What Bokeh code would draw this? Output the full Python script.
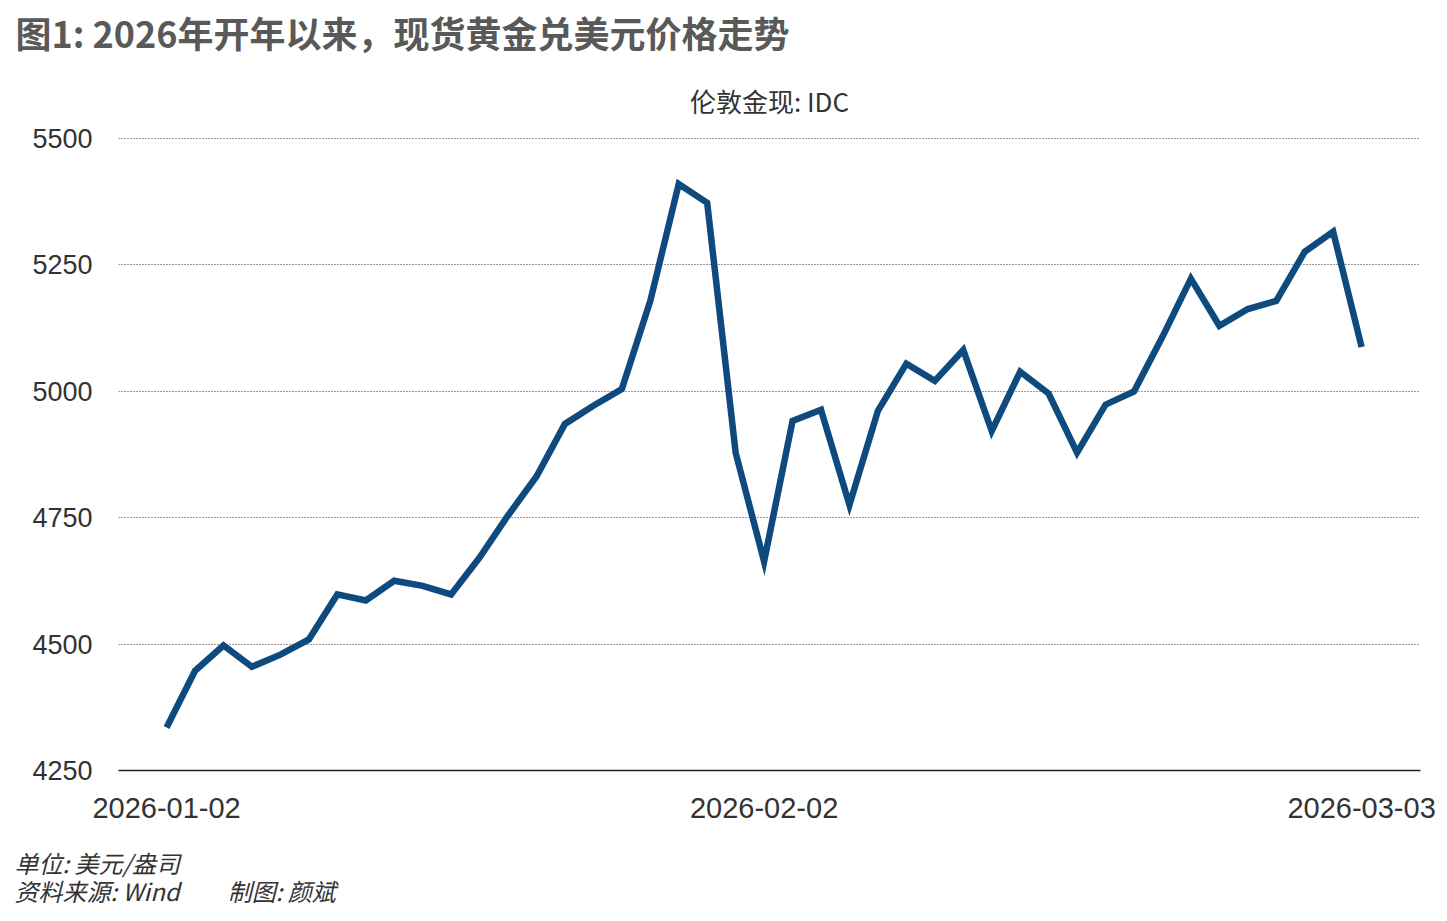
import pandas as pd
from bokeh.plotting import figure
from bokeh.models import FixedTicker, Range1d, Title
from bokeh.embed import file_html
from bokeh.resources import INLINE

# ---- data ----
dates = [d.strftime("%Y-%m-%d") for d in pd.bdate_range("2026-01-02", "2026-03-03")]
price = [4335, 4447, 4497, 4455, 4479, 4509, 4598, 4586, 4625, 4615,
         4598, 4671, 4754, 4831, 4935, 4971, 5004, 5178, 5409, 5372,
         4878, 4663, 4941, 4963, 4775, 4961, 5054, 5020, 5081, 4921,
         5038, 4995, 4878, 4973, 4999, 5107, 5222, 5129, 5162, 5178,
         5275, 5315, 5087]
y_ticks = [4250, 4500, 4750, 5000, 5250, 5500]
x_tick_idx = [0, 21, 42]
title_text = "图1: 2026年开年以来，现货黄金兑美元价格走势"
series_name = "伦敦金现: IDC"
unit_text = "单位: 美元/盎司"
source_text = "资料来源: Wind　　制图: 颜斌"

idx = list(range(len(price)))

CJK = "Noto Sans CJK SC"
NUM = "Liberation Sans"

p = figure(width=1440, height=915, output_backend="svg", toolbar_location=None,
           x_range=Range1d(-1.69, 44.07), y_range=Range1d(4250, 5501),
           min_border_left=118, min_border_right=20, min_border_top=137,
           min_border_bottom=145)
p.outline_line_color = None
p.background_fill_color = "white"
p.border_fill_color = "white"

p.line(idx, price, line_color="#0e4a7e", line_width=6.5, line_join="miter")

# axes
p.xaxis.ticker = FixedTicker(ticks=x_tick_idx)
p.xaxis.major_label_overrides = {i: dates[i] for i in x_tick_idx}
p.xaxis.major_tick_line_color = None
p.xaxis.minor_tick_line_color = None
p.xaxis.axis_line_color = "#222222"
p.xaxis.axis_line_width = 1.5
p.xaxis.major_label_text_font = NUM
p.xaxis.major_label_text_font_size = "29px"
p.xaxis.major_label_text_color = "#333333"
p.xaxis.major_label_standoff = 21

p.yaxis.ticker = FixedTicker(ticks=y_ticks)
p.yaxis.major_tick_line_color = None
p.yaxis.minor_tick_line_color = None
p.yaxis.axis_line_color = None
p.yaxis.major_label_text_font = NUM
p.yaxis.major_label_text_font_size = "27px"
p.yaxis.major_label_text_color = "#333333"
p.yaxis.major_label_standoff = 20

p.xgrid.grid_line_color = None
p.ygrid.grid_line_color = "#333333"
p.ygrid.grid_line_dash = "1 2"
p.ygrid.grid_line_width = 1

# main title (outermost)
p.title.text = title_text
p.title.align = "left"
p.title.offset = -103
p.title.text_font = CJK
p.title.text_font_style = "bold"
p.title.text_font_size = "36px"
p.title.text_color = "#595959"
p.title.standoff = 5

# series name (nearest the frame), centered
p.add_layout(Title(text=series_name, align="center", standoff=38,
                   text_font=CJK, text_font_style="normal", text_font_size="26px",
                   text_color="#333333"), "above")

# footer: small spacer, then two lines
p.add_layout(Title(text=" ", align="left", standoff=17.6, text_font=CJK,
                   text_font_size="2px", text_color="#ffffff"), "below")
p.add_layout(Title(text=unit_text, align="left", offset=-104, standoff=0,
                   text_font=CJK, text_font_style="italic", text_font_size="24px",
                   text_color="#333333"), "below")
p.add_layout(Title(text=source_text, align="left", offset=-104, standoff=-17.5,
                   text_font=CJK, text_font_style="italic", text_font_size="24px",
                   text_color="#333333"), "below")

open("out.html", "w").write(file_html(p, INLINE))
